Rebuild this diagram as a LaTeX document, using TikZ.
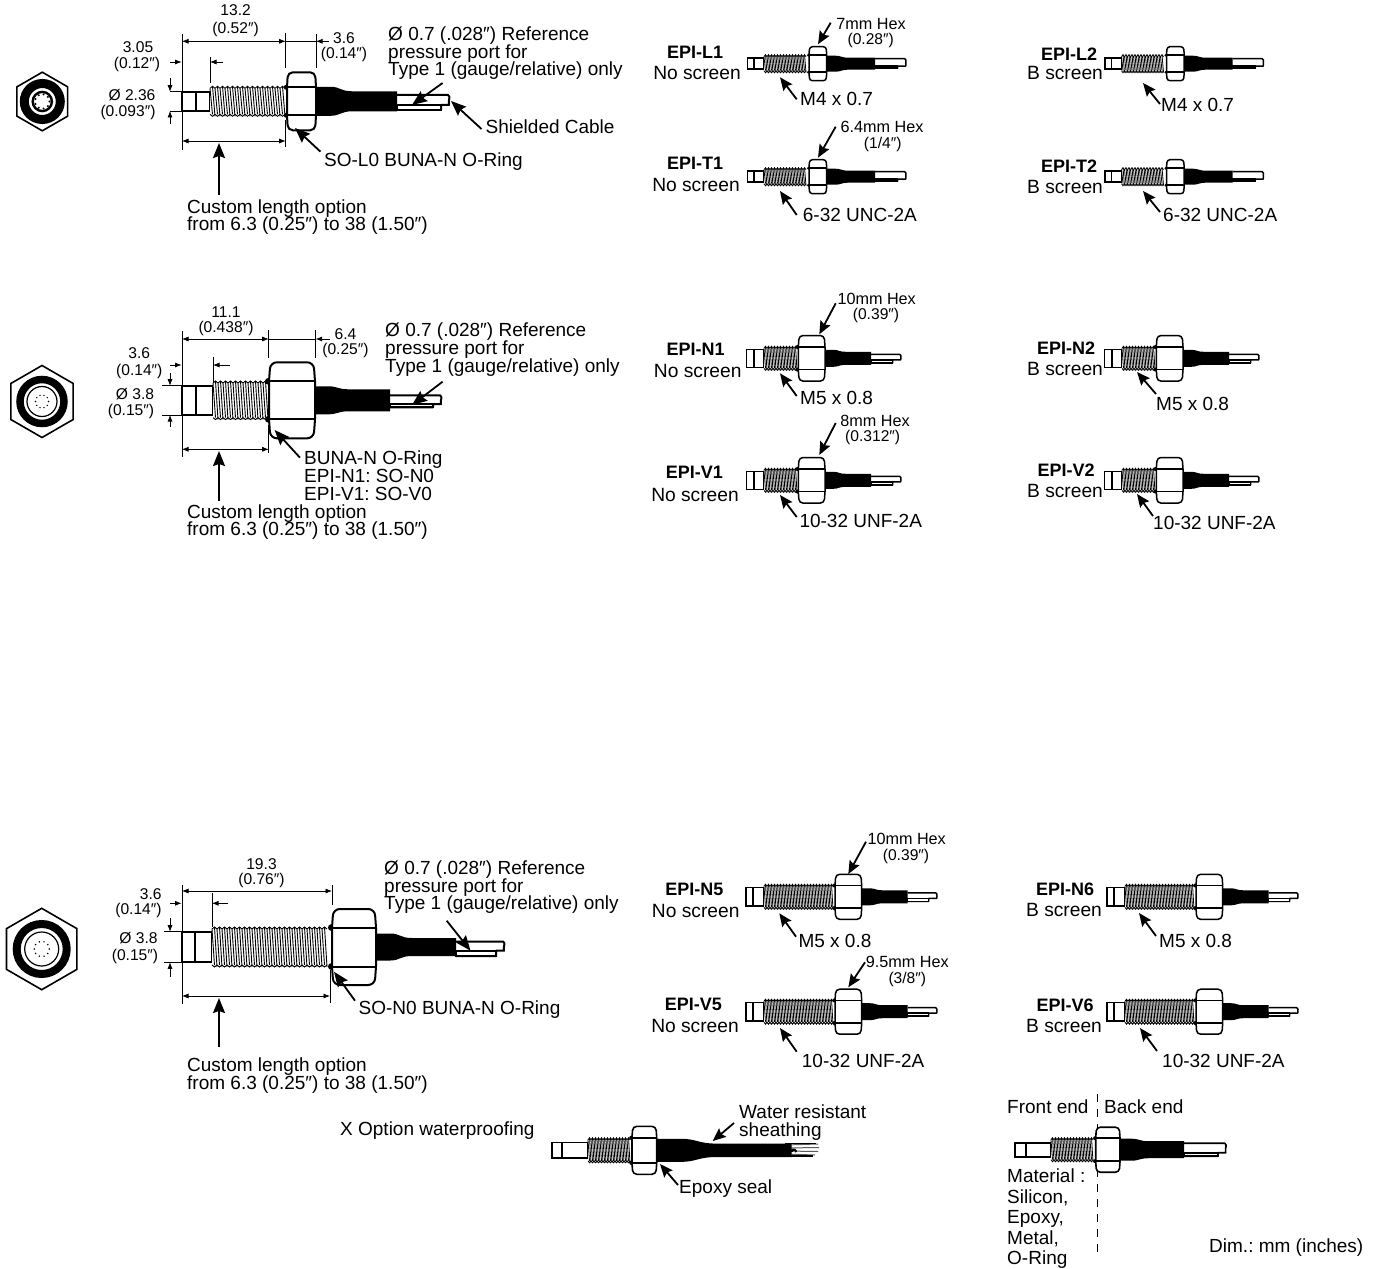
\documentclass[tikz,border=0pt]{standalone}
\usepackage{fontspec}
\setmainfont{Liberation Sans}
\usetikzlibrary{arrows.meta,calc}
\frenchspacing
\pgfkeys{/sens/.cd,
 x/.store in=\sX,y/.store in=\sY,ti/.store in=\sTi,ts/.store in=\sTs,te/.store in=\sTe,
 hl/.store in=\sHl,hr/.store in=\sHr,se/.store in=\sSe,ce/.store in=\sCe,
 ht/.store in=\sHt,hth/.store in=\sHth,hh/.store in=\sHh,band/.store in=\sBand,
 wide/.store in=\sWide,narrow/.store in=\sNarrow,cu/.store in=\sCu,cd/.store in=\sCd,
 tt/.store in=\sTt,p/.store in=\sP,lw/.store in=\sLw,tl/.store in=\sTl,
 tl=0.8,
 Ltype/.style={ti=6.3,ts=16.3,te=60.3,hl=61.3,hr=79,se=127.3,ce=159,ht=5.5,hth=9,hh=17,band=8.5,wide=8,narrow=6,cu=5,cd=4.5,tt=2.5,p=3,lw=1.5},
 Ntype/.style={ti=7.3,ts=17.3,te=50.3,hl=51.6,hr=78.3,se=124.3,ce=155,ht=9,hth=12,hh=22.8,band=11.3,wide=8.5,narrow=6.5,cu=4,cd=4.5,tt=1.5,p=3,lw=1.5},
 Ftype/.style={ti=7,ts=18,te=88,hl=89,hr=115.7,se=161.7,ce=191.7,ht=9.2,hth=12.5,hh=22.5,band=11.3,wide=8.5,narrow=6.5,cu=4,cd=4.5,tt=1.5,p=3,lw=1.5}
}
\newcommand\sensor[1]{\begingroup
 \pgfkeys{/sens/.cd,#1}
 \pgfmathsetmacro\xA{\sX+\sTi}\pgfmathsetmacro\xB{\sX+\sTs}\pgfmathsetmacro\xC{\sX+\sTe}
 \pgfmathsetmacro\xD{\sX+\sHl}\pgfmathsetmacro\xE{\sX+\sHr}\pgfmathsetmacro\xF{\sX+\sSe}\pgfmathsetmacro\xG{\sX+\sCe}
 % cable
 \pgfmathsetmacro\yU{\sY-\sCu}\pgfmathsetmacro\yD{\sY+\sCd}\pgfmathsetmacro\yT{\sY+\sTt}
 \draw[line width=\sLw pt,line join=round,fill=white] (\xF,\yU) -- ({\xG-2},\yU) .. controls ({\xG+1},{\yU+2}) and ({\xG-2},{\yU+4}) .. ({\xG-1},\yT)
   -- ({\xG-9},\yT) -- ({\xG-9},\yD) -- (\xF,\yD);
 \draw[line width=\sLw pt,fill=white] (\xF,\yT) rectangle ({\xG-9},\yD);
 % sheath
 \pgfmathsetmacro\sL{\sSe-\sHr}
 \fill (\xE,{\sY-\sWide}) -- ({\xE+.18*\sL},{\sY-\sWide}) .. controls ({\xE+.3*\sL},{\sY-\sWide}) and ({\xE+.3*\sL},{\sY-\sNarrow}) .. ({\xE+.45*\sL},{\sY-\sNarrow})
   -- (\xF,{\sY-\sNarrow}) -- (\xF,{\sY+\sNarrow}) -- ({\xE+.45*\sL},{\sY+\sNarrow}) .. controls ({\xE+.3*\sL},{\sY+\sNarrow}) and ({\xE+.3*\sL},{\sY+\sWide}) .. ({\xE+.18*\sL},{\sY+\sWide}) -- (\xE,{\sY+\sWide}) -- cycle;
 % tip
 \draw[line width=\sLw pt,fill=white] (\sX,{\sY-\sHt}) rectangle (\xB,{\sY+\sHt});
 \draw[line width=\sLw pt] (\xA,{\sY-\sHt}) -- (\xA,{\sY+\sHt});
 % thread
 \pgfmathtruncatemacro\nT{(\sTe-\sTs)/\sP-1}
 \fill[white] (\xB,{\sY-\sHth}) rectangle (\xC,{\sY+\sHth});
 \foreach \i in {0,...,\nT}{
  \pgfmathsetmacro\xa{\xB+\i*\sP}\pgfmathsetmacro\xb{\xa+.5*\sP}\pgfmathsetmacro\xc{\xa+\sP}
  \draw[line width=\sTl pt] (\xa,{\sY-\sHth+2}) -- (\xb,{\sY-\sHth}) -- (\xc,{\sY-\sHth+2});
  \draw[line width=\sTl pt] (\xa,{\sY+\sHth-2}) -- (\xb,{\sY+\sHth}) -- (\xc,{\sY+\sHth-2});
  \draw[line width=\sTl pt] (\xb,{\sY-\sHth}) -- (\xc,{\sY+\sHth});
  \draw[line width=\sTl pt] (\xa,{\sY-\sHth+2}) -- (\xb,{\sY+\sHth-2});
 }
 % hex
 \pgfmathsetmacro\rC{.17*\sHh}
 \pgfmathsetmacro\iN{.03*(\sHr-\sHl)}
 \fill ({\xD-.6},{\sY-\sBand}) circle ({.09*\sHh});
 \fill ({\xD-.6},{\sY+\sBand}) circle ({.09*\sHh});
 \draw[line width=\sLw pt,fill=white] (\xD,{\sY-\sBand}) [rounded corners=\rC pt] -- ({\xD+\iN},{\sY-\sHh}) -- ({\xE-\iN},{\sY-\sHh}) [sharp corners] -- (\xE,{\sY-\sBand}) -- (\xE,{\sY+\sBand}) [rounded corners=\rC pt] -- ({\xE-\iN},{\sY+\sHh}) -- ({\xD+\iN},{\sY+\sHh}) [sharp corners] -- (\xD,{\sY+\sBand}) -- cycle;
 \draw[line width=\sLw pt] (\xD,{\sY-\sBand}) -- (\xE,{\sY-\sBand}) (\xD,{\sY+\sBand}) -- (\xE,{\sY+\sBand});
 \endgroup}
\newcommand\leader[3]{\coordinate (#1s) at (#2);\coordinate (#1e) at (#3);\draw[bigarrow] (#1s) -- (#1e);}
\newcommand\sleader[3]{\coordinate (#1s) at (#2);\coordinate (#1e) at (#3);\draw[smallarrow] (#1s) -- (#1e);}
\newcommand\hexview[4]{%
 \begin{scope}[shift={(#1,#2)}]
  \draw[line width=1.6pt,fill=white,line join=miter] (90:#3) -- (150:#3) -- (210:#3) -- (270:#3) -- (330:#3) -- (30:#3) -- cycle;
  #4
 \end{scope}}
\tikzset{
 lbl/.style={anchor=west,inner sep=0pt,yshift=-3.7pt,font=\fontsize{19}{18}\selectfont,text height=.72em,text depth=.2em},
 dimt/.style={anchor=center,inner sep=0pt,yshift=-3pt,font=\fontsize{15.6}{16}\selectfont,text height=.72em,text depth=.2em},
 mod/.style={anchor=center,inner sep=0pt,yshift=-3.7pt,font=\fontsize{18}{18}\selectfont\bfseries,text height=.72em,text depth=.2em},
 scr/.style={anchor=center,inner sep=0pt,yshift=-3.7pt,font=\fontsize{19.2}{18}\selectfont,text height=.72em,text depth=.2em},
 hext/.style={anchor=center,inner sep=0pt,yshift=-3pt,font=\fontsize{16.2}{16}\selectfont,text height=.72em,text depth=.2em},
 thin line/.style={line width=.7pt},
 dimarrow/.style={line width=.7pt,-{Latex[length=6.5pt,width=5pt]}},
 dimboth/.style={line width=.7pt,{Latex[length=6.5pt,width=5pt]}-{Latex[length=6.5pt,width=5pt]}},
 bigarrow/.style={line width=1.8pt,-{Stealth[length=15pt,width=12pt,inset=2pt]}},
 smallarrow/.style={line width=1.8pt,-{Stealth[length=13pt,width=11pt,inset=2pt]}},
}
\begin{document}
\begin{tikzpicture}[x=1pt,y=-1pt]
\useasboundingbox (0,0) rectangle (1375,1268);
\fill[white] (0,0) rectangle (1375,1268);

%% ---------- end views
\hexview{42.3}{101.5}{29.3}{
 \draw[line width=9pt] (0,0) circle (18);
 \draw[line width=2.4pt] (0,0) circle (9.6);
 \foreach \a in {0,40,...,320}{\fill (\a:7.2) circle (1.1);}
}
\hexview{42}{401.5}{36}{
 \draw[line width=7.5pt] (0,0) circle (22);
 \draw[line width=1.2pt] (0,0) circle (15);
 \foreach \a in {0,36,...,324}{\fill (\a:6.5) circle (.8);}
}
\hexview{41.7}{949}{40.7}{
 \draw[line width=8pt] (0,0) circle (25);
 \draw[line width=1.2pt] (0,0) circle (17);
 \foreach \a in {0,36,...,324}{\fill (\a:7.5) circle (.85);}
}

%% ---------- large sensor 1
\sensor{x=182,y=101.3,ti=14,ts=28,te=103,hl=105,hr=134,se=215,ce=268,ht=9.7,hth=15,hh=29,band=14,wide=14.5,narrow=10,cu=6.3,cd=8.7,tt=3.7,p=5,lw=2,tl=.9}
\draw[thin line] (182,34) -- (182,92) (182,111) -- (182,150);
\draw[thin line] (285.7,33) -- (285.7,68) (316,34) -- (316,68);
\draw[thin line] (210,56.7) -- (210,82.7);
\draw[dimboth] (182,41.3) -- (285.7,41.3);
\draw[thin line] (285.7,41.3) -- (316,41.3);
\draw[dimarrow] (329,41.3) -- (316,41.3);
\draw[dimarrow] (170,62) -- (181.6,62);
\draw[dimarrow] (223,62) -- (210,62);
\draw[thin line] (170,91.7) -- (182,91.7) (170,111) -- (182,111);
\draw[dimarrow] (170,78) -- (170,91.7);
\draw[dimarrow] (170,124) -- (170,111);
\draw[dimboth] (182,141) -- (285.7,141);
\draw[thin line] (285.7,120) -- (285.7,147);
\node[dimt] (a1) at (235.6,10) {13.2};
\node[dimt] (a2) at (235.6,28) {(0.52″)};
\node[dimt] (a3) at (344,38) {3.6};
\node[dimt] (a4) at (344,53) {(0.14″)};
\node[dimt] (a5) at (138,47) {3.05};
\node[dimt] (a6) at (137,62.7) {(0.12″)};
\node[dimt] (a7) at (132,95) {Ø 2.36};
\node[dimt] (a8) at (128,110.6) {(0.093″)};
\node[lbl] (a9) at (388,34) {Ø 0.7 (.028″) Reference};
\node[lbl] (a10) at (388,52) {pressure port for};
\node[lbl] (a11) at (388,69) {Type 1 (gauge/relative) only};
\node[lbl] (a12) at (485.5,127.5) {Shielded Cable};
\node[lbl] (a13) at (324,160) {SO-L0 BUNA-N O-Ring};
\node[lbl] (a14) at (187,207) {Custom length option};
\node[lbl] (a15) at (187,224) {from 6.3 (0.25″) to 38 (1.50″)};
\leader{a16}{442.6,83}{412,105}
\leader{a17}{481.5,129}{451,101}
\leader{a18}{320.5,151.7}{295,128}
\leader{a19}{219,195}{219,143}

%% ---------- large sensor 2
\sensor{x=182,y=400.3,ti=14,ts=31,te=86.5,hl=87,hr=133,se=208,ce=260,ht=14.7,hth=19.3,hh=38,band=19,wide=14,narrow=11,cu=5,cd=7,tt=3.7,p=5,lw=2,tl=.9}
\draw[thin line] (182,331) -- (182,386) (182,415) -- (182,456.7);
\draw[thin line] (268.7,330) -- (268.7,358) (315.6,330) -- (315.6,358);
\draw[thin line] (213,356.7) -- (213,381.7);
\draw[dimboth] (182,339) -- (268.7,339);
\draw[thin line] (268.7,339) -- (315.6,339);
\draw[dimarrow] (330,339) -- (315.6,339);
\draw[dimarrow] (170,365) -- (181.6,365);
\draw[dimarrow] (230,365) -- (213,365);
\draw[thin line] (162,385.7) -- (182,385.7) (162,415) -- (182,415);
\draw[dimarrow] (170,373) -- (170,385.7);
\draw[dimarrow] (170,426.7) -- (170,415);
\draw[dimboth] (182,449.3) -- (268.7,449.3);
\draw[thin line] (268.7,425) -- (268.7,453);
\node[dimt] (b1) at (226,312) {11.1};
\node[dimt] (b2) at (226,327) {(0.438″)};
\node[dimt] (b3) at (345.5,334) {6.4};
\node[dimt] (b4) at (345.5,349) {(0.25″)};
\node[dimt] (b5) at (139.3,353) {3.6};
\node[dimt] (b6) at (139.3,370) {(0.14″)};
\node[dimt] (b7) at (135,394) {Ø 3.8};
\node[dimt] (b8) at (131,410) {(0.15″)};
\node[lbl] (b9) at (385,330) {Ø 0.7 (.028″) Reference};
\node[lbl] (b10) at (385,348) {pressure port for};
\node[lbl] (b11) at (385,366) {Type 1 (gauge/relative) only};
\node[lbl] (b12) at (304,458) {BUNA-N O-Ring};
\node[lbl] (b13) at (304,476) {EPI-N1: SO-N0};
\node[lbl] (b14) at (304,494) {EPI-V1: SO-V0};
\node[lbl] (b15) at (187,512) {Custom length option};
\node[lbl] (b16) at (187,529) {from 6.3 (0.25″) to 38 (1.50″)};
\leader{b17}{442.6,381.7}{412,405}
\leader{b18}{300,457.7}{274.6,430}
\leader{b19}{219,500.7}{219,451}

%% ---------- large sensor 3
\sensor{x=182,y=947,ti=13,ts=30,te=148,hl=150,hr=194,se=274,ce=323,ht=15.3,hth=20,hh=38,band=19.5,wide=13.5,narrow=9,cu=5.5,cd=9,tt=3.7,p=5,lw=2,tl=.9}
\draw[thin line] (182,885) -- (182,932) (182,962) -- (182,1004);
\draw[thin line] (332,885) -- (332,905);
\draw[thin line] (212,893) -- (212,927);
\draw[dimboth] (182,891) -- (332,891);
\draw[dimarrow] (170,903.3) -- (181.6,903.3);
\draw[dimarrow] (227.5,903.3) -- (212,903.3);
\draw[thin line] (164,931.7) -- (182,931.7) (164,962.3) -- (182,962.3);
\draw[dimarrow] (170,918) -- (170,931.7);
\draw[dimarrow] (170,976.7) -- (170,962.3);
\draw[dimboth] (182,996) -- (330,996);
\draw[thin line] (330,970) -- (330,1003);
\node[dimt] (c1) at (261.5,864) {19.3};
\node[dimt] (c2) at (261.5,879) {(0.76″)};
\node[dimt] (c3) at (150.8,894) {3.6};
\node[dimt] (c4) at (138.5,909) {(0.14″)};
\node[dimt] (c5) at (138.5,938) {Ø 3.8};
\node[dimt] (c6) at (135,955) {(0.15″)};
\node[lbl] (c7) at (384,868) {Ø 0.7 (.028″) Reference};
\node[lbl] (c8) at (384,886) {pressure port for};
\node[lbl] (c9) at (384,903) {Type 1 (gauge/relative) only};
\node[lbl] (c10) at (358.5,1008) {SO-N0 BUNA-N O-Ring};
\node[lbl] (c11) at (187,1065) {Custom length option};
\node[lbl] (c12) at (187,1083) {from 6.3 (0.25″) to 38 (1.50″)};
\leader{c13}{446.7,920.7}{470.5,950.7}
\leader{c14}{355,1000.7}{334,971.7}
\leader{c15}{219,1047}{219,998}

%% ---------- small sensors, middle column
\sensor{/sens/Ltype,x=747.7,y=63.7}
\sensor{/sens/Ltype,x=747.7,y=176.7}
\sensor{/sens/Ntype,x=746.7,y=358.3}
\sensor{/sens/Ntype,x=746.7,y=480.3}
\sensor{/sens/Ftype,x=746,y=896.8}
\sensor{/sens/Ftype,x=746,y=1011.7}
%% ---------- small sensors, right column
\sensor{/sens/Ltype,x=1105.2,y=63.7}
\sensor{/sens/Ltype,x=1105.2,y=176.7}
\sensor{/sens/Ntype,x=1104.7,y=358.3}
\sensor{/sens/Ntype,x=1104.7,y=480.3}
\sensor{/sens/Ftype,x=1107,y=896.8}
\sensor{/sens/Ftype,x=1107,y=1011.7}

%% labels middle column
\node[mod] (d1) at (695,52.7) {EPI-L1};
\node[scr] (d2) at (697,73) {No screen};
\node[hext] (d3) at (871,24) {7mm Hex};
\node[dimt] (d4) at (870.7,39) {(0.28″)};
\node[lbl] (d5) at (800,99.3) {M4 x 0.7};
\sleader{d6}{830.7,22.7}{818,44.3}
\sleader{d7}{796.7,99.3}{780,77.3}
\node[mod] (e1) at (695,163) {EPI-T1};
\node[scr] (e2) at (696,185.7) {No screen};
\node[hext] (e3) at (882,127.3) {6.4mm Hex};
\node[dimt] (e4) at (882.7,142.7) {(1/4″)};
\node[lbl] (e5) at (802.7,215) {6-32 UNC-2A};
\sleader{e6}{835.7,126.7}{818,157.7}
\sleader{e7}{796.7,215}{780,191}
\node[mod] (f1) at (695.7,349.3) {EPI-N1};
\node[scr] (f2) at (697.7,371) {No screen};
\node[hext] (f3) at (876.7,299) {10mm Hex};
\node[dimt] (f4) at (876,314.3) {(0.39″)};
\node[lbl] (f5) at (800,398.3) {M5 x 0.8};
\sleader{f6}{835.7,303.3}{819.3,334.3}
\sleader{f7}{796.7,396}{780,373.3}
\node[mod] (g1) at (694.3,471.7) {EPI-V1};
\node[scr] (g2) at (695,495) {No screen};
\node[hext] (g3) at (875,420.7) {8mm Hex};
\node[dimt] (g4) at (872.7,435.7) {(0.312″)};
\node[lbl] (g5) at (799.3,520.7) {10-32 UNF-2A};
\sleader{g6}{835.7,423}{819.3,455}
\sleader{g7}{796.7,517}{780,495}
\node[mod] (h1) at (694.3,889.3) {EPI-N5};
\node[scr] (h2) at (695.7,911) {No screen};
\node[hext] (h3) at (906.7,839) {10mm Hex};
\node[dimt] (h4) at (906,855) {(0.39″)};
\node[lbl] (h5) at (798.3,941) {M5 x 0.8};
\sleader{h6}{866,841.7}{848.3,874}
\sleader{h7}{796,936.7}{779.3,913.3}
\node[mod] (i1) at (693.3,1004) {EPI-V5};
\node[scr] (i2) at (695,1026) {No screen};
\node[hext] (i3) at (907.3,961.7) {9.5mm Hex};
\node[dimt] (i4) at (907.3,977.7) {(3/8″)};
\node[lbl] (i5) at (801.7,1061) {10-32 UNF-2A};
\sleader{i6}{865,962.3}{848.3,987.3}
\sleader{i7}{796.7,1051.7}{780,1028}

%% labels right column
\node[mod] (j1) at (1069,54) {EPI-L2};
\node[scr] (j2) at (1065,73) {B screen};
\node[lbl] (j3) at (1161,105) {M4 x 0.7};
\sleader{j4}{1160,104}{1143,83}
\node[mod] (k1) at (1069,166) {EPI-T2};
\node[scr] (k2) at (1065,187) {B screen};
\node[lbl] (k3) at (1163,215) {6-32 UNC-2A};
\sleader{k4}{1160,212}{1143,191}
\node[mod] (l1) at (1066,348) {EPI-N2};
\node[scr] (l2) at (1065,369) {B screen};
\node[lbl] (l3) at (1156,404) {M5 x 0.8};
\sleader{l4}{1156,394}{1137,372}
\node[mod] (m1) at (1066,470) {EPI-V2};
\node[scr] (m2) at (1065,491) {B screen};
\node[lbl] (m3) at (1153,523) {10-32 UNF-2A};
\sleader{m4}{1153,516}{1137,494}
\node[mod] (n1) at (1065,889) {EPI-N6};
\node[scr] (n2) at (1064,910) {B screen};
\node[lbl] (n3) at (1159,941) {M5 x 0.8};
\sleader{n4}{1156,936}{1139,913}
\node[mod] (o1) at (1065,1005) {EPI-V6};
\node[scr] (o2) at (1064,1026) {B screen};
\node[lbl] (o3) at (1162,1061) {10-32 UNF-2A};
\sleader{o4}{1157,1051}{1140,1028}

%% ---------- X option sensor
\draw[line width=1pt,gray!70!black] (785,1145) -- (818,1144) (785,1148) -- (819,1147.5) (785,1151) -- (818,1151.5) (785,1154) -- (815,1155);
\draw[line width=1.2pt] (785,1143.5) -- (816,1143.5) (785,1156) -- (813,1156);
\sensor{x=551.7,y=1150.3,ti=10.3,ts=36.3,te=79.3,hl=80.3,hr=105,se=240,ce=245,ht=7.7,hth=12.5,hh=24,band=12.5,wide=11.5,narrow=6.7,cu=1,cd=1,tt=0,p=3,lw=1.6}
\node[lbl] (p1) at (340,1129) {X Option waterproofing};
\node[lbl] (p2) at (739,1111.7) {Water resistant};
\node[lbl] (p3) at (739,1130) {sheathing};
\node[lbl] (p4) at (679,1186.7) {Epoxy seal};
\sleader{p5}{734,1123}{712.7,1141}
\sleader{p6}{678,1185}{660,1164}

%% ---------- front/back sensor
\coordinate (q0) at (1097,1094);
\coordinate (q00) at (1097,1256);
\draw[line width=.8pt,dash pattern=on 8pt off 7pt] (q0) -- (q00);
\sensor{x=1015,y=1149.7,ti=10.7,ts=36,te=79,hl=80.7,hr=105,se=169,ce=211.7,ht=7,hth=12,hh=22.5,band=11.5,wide=11,narrow=8.5,cu=6.5,cd=6.5,tt=3,p=3,lw=1.6}
\node[lbl] (q1) at (1007,1106.7) {Front end};
\node[lbl] (q2) at (1104,1106.7) {Back end};
\node[lbl] (q3) at (1007,1176) {Material :};
\node[lbl] (q4) at (1007,1196.7) {Silicon,};
\node[lbl] (q5) at (1007,1217) {Epoxy,};
\node[lbl] (q6) at (1007,1237.7) {Metal,};
\node[lbl] (q7) at (1007,1258) {O-Ring};
\node[lbl] (q8) at (1209,1246) {Dim.: mm (inches)};
\end{tikzpicture}
\end{document}
